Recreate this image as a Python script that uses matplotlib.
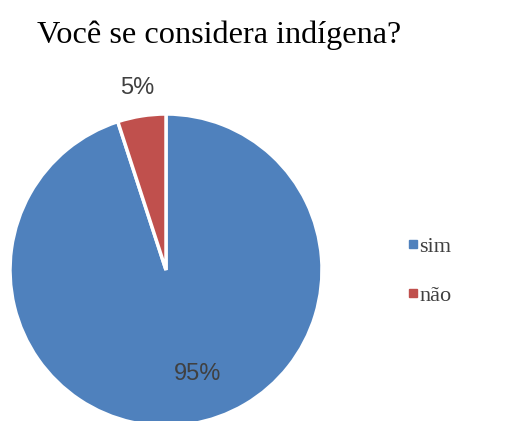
import matplotlib.pyplot as plt
from matplotlib.lines import Line2D

labels = ['sim', 'não']
values = [95, 5]
colors = ['#4F81BD', '#C0504D']
title = 'Você se considera indígena?'

W, H = 528, 421
fig = plt.figure(figsize=(W / 100, H / 100), dpi=100)

# pie axes: radius 156 px, centre at (166, 270) from top-left
r = 156
cx, cy = 166, 270
ax = fig.add_axes([(cx - r) / W, (H - cy - r) / H, 2 * r / W, 2 * r / H])
wedges, texts, autotexts = ax.pie(
    values, colors=colors, startangle=90, counterclock=False,
    autopct='%d%%', pctdistance=0.68,
    wedgeprops=dict(edgecolor='white', linewidth=2.5),
    textprops=dict(family='Liberation Sans', fontsize=17, color='#404040'))
# label placement like the original (best fit)
autotexts[0].set_position((0.2, -0.665))
x, y = autotexts[1].get_position()
autotexts[1].set_position((x * 1.18 / 0.68, y * 1.18 / 0.68))
ax.set_xlim(-1, 1)
ax.set_ylim(-1, 1)
ax.set_aspect('equal')
ax.axis('off')

fig.text(37 / W, 1 - 35 / H, title, family='Liberation Serif', fontsize=23.2,
         color='black', va='center', ha='left')

handles = [Line2D([], [], marker='s', linestyle='none', markersize=5.5,
                  markerfacecolor=c, markeredgecolor=c) for c in colors]
fig.legend(handles, labels, loc='center left', bbox_to_anchor=(386 / W, 1 - 271 / H),
           frameon=False, handlelength=0.6, handletextpad=0.0, labelspacing=1.3,
           prop=dict(family='Liberation Serif', size=16), labelcolor='#404040')

fig.savefig('out.png', dpi=100)
